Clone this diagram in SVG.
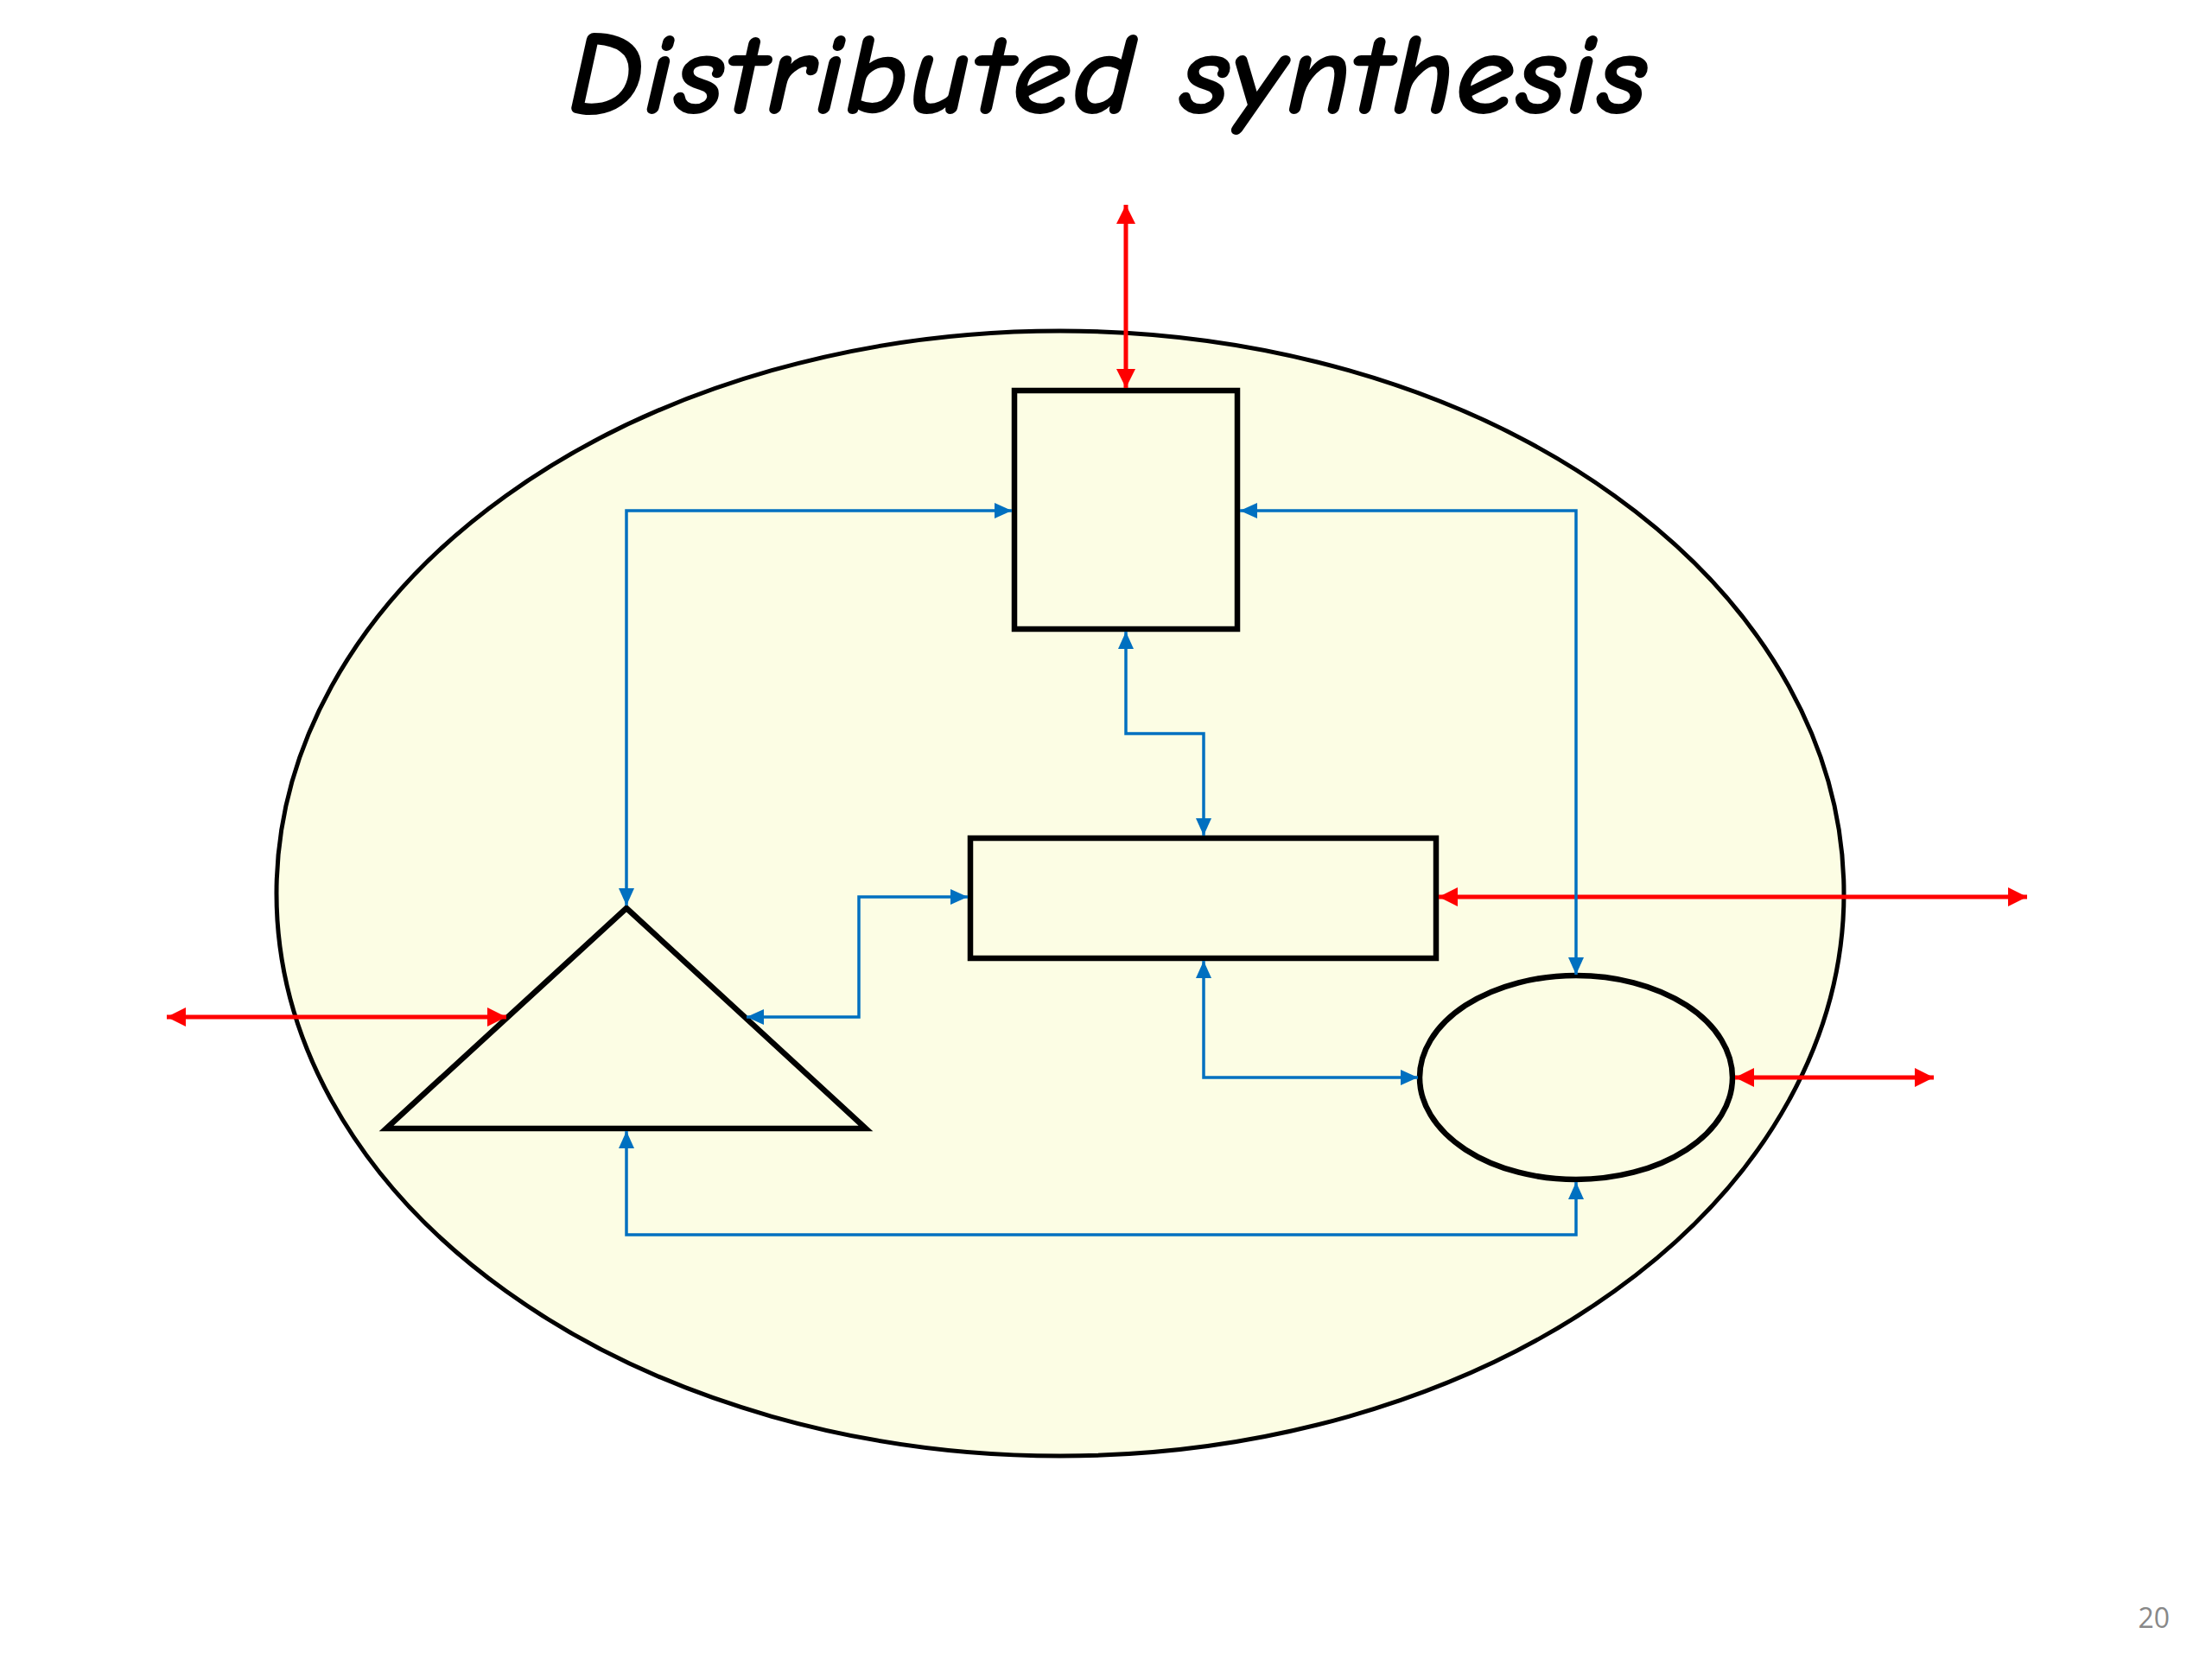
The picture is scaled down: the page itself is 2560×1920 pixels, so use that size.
<svg xmlns="http://www.w3.org/2000/svg" width="2560" height="1920" viewBox="0 0 2560 1920">
  <style>
    .shape { fill: #FCFDE4; stroke: #000; stroke-width: 6.5; stroke-linejoin: miter; }
    .blue { fill: none; stroke: #0070C0; stroke-width: 3.5; }
    .red { fill: none; stroke: #FF0000; stroke-width: 5; }
    .title { font-family: "Comic Neue", "DejaVu Sans", "Liberation Sans", sans-serif; font-size: 136px; font-weight: bold; font-style: italic; fill: #000; }
    .pnum { font-family: "Open Sans", "Liberation Sans", sans-serif; font-size: 32px; fill: #888; }
  </style>
  <defs>
    <marker id="ab" viewBox="0 0 20 18" refX="20" refY="9" markerWidth="20" markerHeight="18" markerUnits="userSpaceOnUse" orient="auto-start-reverse">
      <path d="M0,0 L20,9 L0,18 Z" fill="#0070C0"/>
    </marker>
    <marker id="ar" viewBox="0 0 22 22" refX="22" refY="11" markerWidth="22" markerHeight="22" markerUnits="userSpaceOnUse" orient="auto-start-reverse">
      <path d="M0,0 L22,11 L0,22 Z" fill="#FF0000"/>
    </marker>
  </defs>
  <rect width="2560" height="1920" fill="#fff"/>
  <text class="title" x="1282" y="131" text-anchor="middle" textLength="1250" lengthAdjust="spacingAndGlyphs">Distributed synthesis</text>

  <g id="cell">
    <ellipse cx="1227" cy="1034" rx="907" ry="651" fill="#FCFDE4" stroke="#000" stroke-width="5"/>
  </g>
  <g id="square">
    <rect class="shape" x="1174" y="452" width="258" height="276"/>
  </g>
  <g id="bar">
    <rect class="shape" x="1123" y="970" width="539" height="139"/>
  </g>
  <g id="triangle">
    <polygon class="shape" points="725,1051 1002,1306 447,1306"/>
  </g>
  <g id="oval">
    <ellipse class="shape" cx="1824" cy="1247" rx="181" ry="118"/>
  </g>

  <g id="connectors">
    <path class="red" d="M1303,237 V449" marker-start="url(#ar)" marker-end="url(#ar)"/>
    <path class="red" d="M1665,1038 H2346" marker-start="url(#ar)" marker-end="url(#ar)"/>
    <path class="red" d="M2008,1247 H2238" marker-start="url(#ar)" marker-end="url(#ar)"/>
    <path class="red" d="M193,1177 H586" marker-start="url(#ar)" marker-end="url(#ar)"/>

    <path class="blue" d="M1171,591 H725 V1048" marker-start="url(#ab)" marker-end="url(#ab)"/>
    <path class="blue" d="M1435,591 H1824 V1128" marker-start="url(#ab)" marker-end="url(#ab)"/>
    <path class="blue" d="M1303,731 V849 H1393 V967" marker-start="url(#ab)" marker-end="url(#ab)"/>
    <path class="blue" d="M1120,1038 H994 V1177 H864" marker-start="url(#ab)" marker-end="url(#ab)"/>
    <path class="blue" d="M1393,1112 V1247 H1641" marker-start="url(#ab)" marker-end="url(#ab)"/>
    <path class="blue" d="M725,1309 V1429 H1824 V1368" marker-start="url(#ab)" marker-end="url(#ab)"/>
  </g>

  <text class="pnum" x="2511" y="1884" text-anchor="end">20</text>
</svg>
